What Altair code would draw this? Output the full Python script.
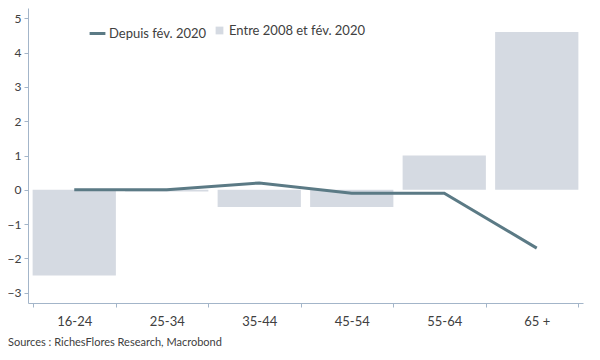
import altair as alt
import pandas as pd

categories = ["16-24", "25-34", "35-44", "45-54", "55-64", "65 +"]
entre_2008 = [-2.5, -0.05, -0.5, -0.5, 1.0, 4.6]
depuis_fev = [0.0, 0.0, 0.2, -0.1, -0.1, -1.7]
y_ticks = [-3, -2, -1, 0, 1, 2, 3, 4, 5]

df = pd.DataFrame({"cat": categories, "bar": entre_2008, "line": depuis_fev})

FONT = "Lato"
TXT = "#404040"
AX = "#a3b5c9"

x_axis = alt.Axis(labelAngle=0, labelFontSize=13, labelColor=TXT, labelFont=FONT,
                  domainColor=AX, tickColor=AX, tickSize=4, tickBand="extent",
                  labelPadding=8, grid=False, labelOverlap=False)
y_axis = alt.Axis(values=y_ticks, labelFontSize=12, labelColor=TXT,
                  labelFont=FONT, domainColor=AX, tickColor=AX, tickSize=4,
                  labelPadding=3, grid=False, labelOverlap=False, labelBound=False)
x_scale = alt.Scale(paddingInner=0.1, paddingOuter=0.05)
y_scale = alt.Scale(domain=[-3.3, 5.3], nice=False, zero=False)

bars = alt.Chart(df).mark_bar(opacity=1).encode(
    x=alt.X("cat:N", sort=categories, title=None, scale=x_scale, axis=x_axis),
    y=alt.Y("bar:Q", title=None, scale=y_scale, axis=y_axis),
    fill=alt.Fill("s:N", title=None,
                  scale=alt.Scale(domain=["Entre 2008 et fév. 2020"], range=["#d5dae2"]),
                  legend=alt.Legend(orient="none", legendX=185, legendY=16, symbolType="square",
                                    symbolSize=60, labelFontSize=13, labelColor=TXT,
                                    labelFont=FONT, labelOffset=3)),
).transform_calculate(s="'Entre 2008 et fév. 2020'")

line = alt.Chart(df).mark_line(strokeWidth=3).encode(
    x=alt.X("cat:N", sort=categories, title=None, scale=x_scale, axis=x_axis),
    y=alt.Y("line:Q", title=None, scale=y_scale, axis=y_axis),
    stroke=alt.Stroke("s:N", title=None,
                      scale=alt.Scale(domain=["Depuis fév. 2020"], range=["#5b7a85"]),
                      legend=alt.Legend(orient="none", legendX=60, legendY=16, symbolType="stroke",
                                        symbolStrokeWidth=3, symbolSize=250, labelFontSize=13,
                                        labelColor=TXT, labelFont=FONT, labelOffset=2)),
).transform_calculate(s="'Depuis fév. 2020'")

chart = alt.layer(bars, line).properties(
    width=555, height=295,
    padding={"left": 20, "top": 0, "right": 9, "bottom": 50},
    autosize=alt.AutoSizeParams(type="none"),
    view=alt.ViewBackground(stroke="transparent", strokeWidth=0),
    title=alt.TitleParams("Sources : RichesFlores Research, Macrobond", orient="bottom",
                          anchor="start", frame="group", dx=-20, offset=9, fontSize=11,
                          fontWeight="normal", color=TXT, font=FONT),
).configure(background="white", view=alt.ViewConfig(stroke="transparent", strokeWidth=0))

chart.save("out.html", embed_options={"renderer": "svg", "actions": False})
